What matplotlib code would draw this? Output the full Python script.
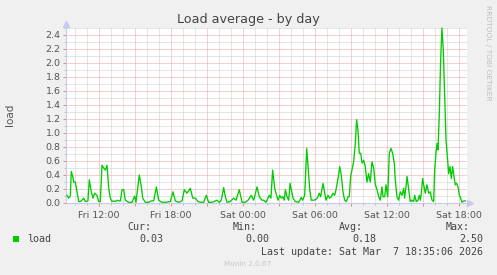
import matplotlib
matplotlib.use("Agg")
import matplotlib.pyplot as plt
from matplotlib.patches import Rectangle
from matplotlib.ticker import MultipleLocator, FuncFormatter

# hours since Fri 00:00
hours = [9.33, 9.47, 9.61, 9.69, 9.81, 9.89, 10.03, 10.17, 10.31, 10.44, 10.58, 10.72, 10.86,
         11.08, 11.19, 11.36, 11.50, 11.64, 11.83, 11.97, 12.11, 12.25, 12.39, 12.53, 12.67,
         12.81, 12.94, 13.08, 13.22, 13.36, 13.50, 13.64, 13.78, 13.92, 14.06, 14.19, 14.47,
         14.75, 14.97, 15.08, 15.36, 15.53, 15.64, 15.86, 16.14, 16.36, 16.56, 16.78, 16.97,
         17.25, 17.53, 17.94, 18.17, 18.36, 18.64, 18.92, 19.11, 19.33, 19.61, 19.81, 20.03,
         20.25, 20.53, 20.72, 20.94, 21.14, 21.42, 21.56, 21.83, 22.03, 22.19, 22.39, 22.53,
         22.67, 22.94, 23.22, 23.42, 23.69, 23.92, 24.19, 24.42, 24.69, 24.89, 25.17, 25.36,
         25.58, 25.72, 25.92, 26.00, 26.19, 26.33, 26.47, 26.64, 26.75, 26.92, 27.06, 27.19,
         27.31, 27.44, 27.53, 27.67, 27.81, 27.92, 28.03, 28.17, 28.36, 28.64, 28.86, 28.97,
         29.14, 29.31, 29.42, 29.56, 29.69, 29.89, 30.08, 30.25, 30.36, 30.47, 30.58, 30.67,
         30.81, 30.92, 31.08, 31.22, 31.36, 31.50, 31.64, 31.75, 31.92, 32.06, 32.19, 32.33,
         32.47, 32.61, 32.75, 32.86, 32.97, 33.08, 33.22, 33.36, 33.47, 33.58, 33.69, 33.81,
         33.92, 34.06, 34.19, 34.33, 34.47, 34.61, 34.75, 34.89, 35.03, 35.17, 35.31, 35.44,
         35.58, 35.67, 35.81, 35.92, 36.06, 36.19, 36.33, 36.47, 36.61, 36.69, 36.83, 36.97,
         37.11, 37.25, 37.39, 37.47, 37.58, 37.67, 37.81, 37.94, 38.08, 38.22, 38.31, 38.44,
         38.58, 38.69, 38.78, 38.86, 38.97, 39.11, 39.19, 39.33, 39.47, 39.61, 39.75, 39.89,
         39.97, 40.08, 40.17, 40.25, 40.36, 40.47, 40.58, 40.69, 40.81, 40.92, 41.03, 41.14,
         41.25, 41.36, 41.47, 41.58, 41.69, 41.81, 41.92, 42.03, 42.14, 42.25, 42.39, 42.53]

load = [0.11, 0.07, 0.10, 0.45, 0.38, 0.30, 0.30, 0.16, 0.02, 0.02, 0.04, 0.07, 0.02,
        0.03, 0.33, 0.16, 0.07, 0.14, 0.11, 0.02, 0.02, 0.54, 0.50, 0.47, 0.54,
        0.21, 0.07, 0.02, 0.03, 0.02, 0.04, 0.03, 0.03, 0.19, 0.19, 0.04, 0.01,
        0.01, 0.10, 0.01, 0.40, 0.23, 0.07, 0.01, 0.01, 0.03, 0.03, 0.23, 0.04,
        0.01, 0.01, 0.02, 0.16, 0.03, 0.01, 0.03, 0.19, 0.14, 0.21, 0.07, 0.07,
        0.02, 0.01, 0.01, 0.11, 0.01, 0.01, 0.02, 0.04, 0.01, 0.04, 0.22, 0.09,
        0.01, 0.02, 0.07, 0.04, 0.19, 0.01, 0.01, 0.04, 0.11, 0.04, 0.23, 0.09,
        0.04, 0.04, 0.01, 0.04, 0.11, 0.07, 0.47, 0.21, 0.14, 0.04, 0.11, 0.07,
        0.09, 0.04, 0.19, 0.09, 0.04, 0.28, 0.19, 0.07, 0.02, 0.01, 0.08, 0.04,
        0.11, 0.78, 0.52, 0.19, 0.04, 0.04, 0.05, 0.09, 0.14, 0.09, 0.19, 0.28,
        0.14, 0.04, 0.11, 0.07, 0.09, 0.14, 0.11, 0.19, 0.35, 0.52, 0.40, 0.16,
        0.04, 0.02, 0.09, 0.09, 0.38, 0.47, 0.59, 0.85, 1.19, 1.04, 0.71, 0.71,
        0.57, 0.61, 0.52, 0.30, 0.42, 0.30, 0.59, 0.50, 0.26, 0.19, 0.09, 0.04,
        0.23, 0.09, 0.09, 0.26, 0.09, 0.71, 0.78, 0.71, 0.57, 0.33, 0.09, 0.04,
        0.16, 0.11, 0.21, 0.07, 0.23, 0.38, 0.19, 0.02, 0.04, 0.02, 0.11, 0.02,
        0.04, 0.11, 0.04, 0.14, 0.35, 0.21, 0.14, 0.26, 0.14, 0.16, 0.04, 0.02,
        0.47, 0.71, 0.85, 0.76, 1.28, 2.04, 2.50, 2.19, 1.52, 0.90, 0.66, 0.42,
        0.52, 0.35, 0.52, 0.38, 0.26, 0.28, 0.23, 0.11, 0.07, 0.01, 0.03, 0.03]

x_label_hours = [12, 18, 24, 30, 36, 42]
x_labels = ["Fri 12:00", "Fri 18:00", "Sat 00:00", "Sat 06:00", "Sat 12:00", "Sat 18:00"]

title = "Load average - by day"
series_name = "load"
stat_names = ["Cur:", "Min:", "Avg:", "Max:"]
stat_values = ["0.03", "0.00", "0.18", "2.50"]
last_update = "Last update: Sat Mar  7 18:35:06 2026"
footer = "Munin 2.0.67"
watermark = "RRDTOOL / TOBI OETIKER"

W, H = 497, 275
fig = plt.figure(figsize=(W / 100, H / 100), dpi=100)
fig.patch.set_facecolor("#F0F0F0")

ax = fig.add_axes([66 / W, (H - 203) / H, 401 / W, 175 / H])
ax.set_facecolor("white")
xmin, xmax = 9.25, 42.667
ax.set_xlim(xmin, xmax)
ax.set_ylim(0, 2.5)
for s in ax.spines.values():
    s.set_visible(False)

# grids
ax.xaxis.set_major_locator(MultipleLocator(3))
ax.xaxis.set_minor_locator(MultipleLocator(1))
ax.yaxis.set_major_locator(MultipleLocator(0.2))
ax.yaxis.set_minor_locator(MultipleLocator(0.1))
lab_map = dict(zip(x_label_hours, x_labels))
ax.xaxis.set_major_formatter(FuncFormatter(lambda v, p: lab_map.get(int(round(v)), "") if abs(v - round(v)) < 1e-6 else ""))
ax.yaxis.set_major_formatter(FuncFormatter(lambda v, p: f"{v:.1f}"))
ax.grid(which="minor", color="#CCCCCC", linestyle=(0, (1, 1)), linewidth=0.72)
ax.grid(which="major", color="#F0A0A0", linestyle=(0, (1, 1)), linewidth=0.72)
ax.set_axisbelow(True)
ax.tick_params(which="major", axis="both", length=2, width=0.7, color="#F08080",
               direction="out", labelsize=6.8, labelcolor="#555555", pad=2)
ax.tick_params(which="minor", axis="both", length=1.5, width=0.7, color="#C0C0C0", direction="out")
ax.tick_params(axis="x", pad=3.5)

# axis lines with arrows
axc = "#C8C8F0"
ax.plot([xmin, xmax + 0.25], [0, 0], color=axc, lw=0.8, clip_on=False, zorder=3)
ax.plot([xmax + 0.25], [0], marker=">", color=axc, ms=4, clip_on=False, zorder=3)
ax.plot([xmin, xmin], [0, 2.56], color=axc, lw=0.8, clip_on=False, zorder=3)
ax.plot([xmin], [2.56], marker="^", color=axc, ms=4, clip_on=False, zorder=3)

ax.plot(hours, load, color="#00CC00", lw=0.95, zorder=4, clip_on=False)

# texts
fig.text(248.5 / W, 1 - 20 / H, title, ha="center", va="center", fontsize=9.2, color="#444444")
fig.text(10 / W, 1 - 115 / H, "load", rotation=90, ha="center", va="center", fontsize=7.5, color="#555555")
fig.text(488 / W, 1 - 5 / H, watermark, rotation=270, ha="center", va="top", fontsize=5.4, color="#BDBDBD")

mono = "DejaVu Sans Mono"
fs = 7.2
tc = "#444444"
name_right = [151, 257, 363, 470]
val_right = [163, 269, 376, 483]
for nm, xr in zip(stat_names, name_right):
    fig.text(xr / W, 1 - 227 / H, nm, ha="right", va="center", family=mono, fontsize=fs, color=tc)
for v, xr in zip(stat_values, val_right):
    fig.text(xr / W, 1 - 239 / H, v, ha="right", va="center", family=mono, fontsize=fs, color=tc)
fig.patches.append(Rectangle((13 / W, 1 - 242 / H), 6 / W, 6 / H, transform=fig.transFigure,
                             facecolor="#00CC00", edgecolor="none"))
fig.text(27 / W, 1 - 239 / H, series_name, ha="left", va="center", family=mono, fontsize=fs, color=tc)
fig.text(483 / W, 1 - 252 / H, last_update, ha="right", va="center", family=mono, fontsize=fs, color=tc)
fig.text(248 / W, 1 - 264 / H, footer, ha="center", va="center", fontsize=5.2, color="#C8C8C8")

fig.savefig("out.png", dpi=100, facecolor=fig.get_facecolor())
